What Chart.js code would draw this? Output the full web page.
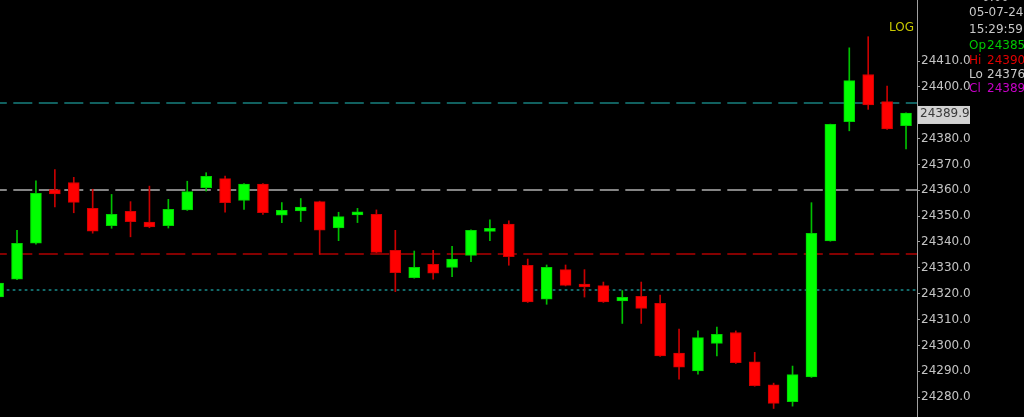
<!DOCTYPE html>
<html lang="en">
<head>
  <meta charset="UTF-8">
  <title>NIFTY 1m</title>
  <script src="https://cdn.jsdelivr.net/npm/chart.js@4.4.1/dist/chart.umd.min.js"></script>
  <style>
    html, body { margin: 0; padding: 0; background: #000; }
    #wrap { width: 1024px; height: 417px; }
  </style>
</head>
<body>
  <div id="wrap"><canvas id="myChart"></canvas></div>
  <script>
    // 1 minute candles, 05-07-24
    const times = ['14:41','14:42','14:43','14:44','14:45','14:46','14:47','14:48','14:49','14:50',
      '14:51','14:52','14:53','14:54','14:55','14:56','14:57','14:58','14:59','15:00',
      '15:01','15:02','15:03','15:04','15:05','15:06','15:07','15:08','15:09','15:10',
      '15:11','15:12','15:13','15:14','15:15','15:16','15:17','15:18','15:19','15:20',
      '15:21','15:22','15:23','15:24','15:25','15:26','15:27','15:28','15:29']
    const opens = [24318.7,24325.6,24339.5,24360.3,24363.0,24353.0,24346.3,24351.9,24347.7,24346.3,
      24352.4,24361.0,24364.5,24356.1,24362.4,24350.4,24352.0,24355.6,24345.4,24350.5,
      24350.7,24336.8,24326.2,24331.4,24330.2,24334.8,24344.1,24346.9,24331.0,24317.9,
      24329.3,24323.6,24323.1,24317.2,24319.0,24316.3,24297.0,24290.1,24300.8,24305.0,
      24293.6,24284.7,24278.2,24287.8,24340.4,24386.5,24404.8,24394.3,24385.0]
    const highs = [24324.5,24344.5,24363.7,24368.0,24365.0,24360.4,24358.4,24355.6,24361.6,24356.5,
      24363.5,24366.8,24365.5,24362.6,24362.6,24355.2,24356.8,24355.8,24351.5,24353.0,
      24352.4,24344.5,24336.5,24336.8,24338.3,24344.7,24348.6,24348.2,24333.4,24331.1,
      24331.1,24329.3,24324.5,24321.2,24324.5,24319.5,24306.3,24305.6,24307.1,24305.6,
      24297.3,24285.4,24292.0,24355.2,24385.6,24415.1,24419.4,24400.3,24390.0]
    const lows = [24313.5,24325.4,24339.2,24353.6,24351.3,24343.4,24345.3,24342.0,24345.5,24345.4,
      24352.2,24359.7,24351.5,24352.6,24350.7,24347.5,24347.9,24335.2,24340.5,24347.5,
      24335.8,24320.8,24326.0,24325.6,24326.6,24332.4,24340.5,24331.0,24316.6,24315.9,
      24323.0,24318.7,24316.6,24308.5,24308.5,24295.7,24286.9,24288.9,24295.9,24293.0,
      24284.2,24275.6,24276.5,24287.6,24340.3,24383.0,24391.3,24383.5,24376.0]
    const closes = [24324.1,24339.5,24358.8,24358.6,24355.3,24344.2,24350.7,24347.9,24345.8,24352.6,
      24359.5,24365.4,24355.2,24362.4,24351.3,24352.2,24353.5,24344.6,24349.8,24350.9,
      24336.0,24328.1,24330.2,24327.9,24333.4,24344.5,24345.3,24334.3,24316.8,24330.2,
      24323.2,24322.6,24316.8,24318.6,24314.3,24295.9,24291.6,24303.0,24304.3,24293.3,
      24284.4,24277.6,24288.7,24343.3,24385.5,24402.4,24393.0,24383.7,24389.9]

    const tickValues = [24280,24290,24300,24310,24320,24330,24340,24350,24360,24370,24380,24390,24400,24410]

    // horizontal reference levels
    const levels = [24393.6, 24360, 24335.2, 24321.3]
    const levelColors = ['#17807f', '#b0b0b0', '#b00000', '#188c8c']
    const levelWidths = [1.5, 1.5, 1.5, 1.5]
    const levelDashes = [[19, 6.5], [19, 6.5], [19, 6.5], [2.7, 3.3]]
    const levelOffsets = [12.2, 12.2, 12.2, -6.7]

    const lastPrice = 24389.9
    const infoLabels = ['', '', 'Op', 'Hi', 'Lo', 'Cl']
    const infoValues = ['05-07-24', '15:29:59', '24385', '24390', '24376', '24389']
    const infoColors = ['#c8c8c8', '#c8c8c8', '#00c800', '#e00000', '#c8c8c8', '#c800c8']

    const up = times.map((t, i) => closes[i] >= opens[i])
    const FONT = 'DejaVu Sans'

    const overlay = {
      id: 'overlay',
      beforeDraw(chart) {
        const c = chart.ctx
        c.save()
        c.fillStyle = '#000'
        c.fillRect(0, 0, chart.width, chart.height)
        c.restore()
      },
      beforeDatasetsDraw(chart) {
        const c = chart.ctx, a = chart.chartArea, y = chart.scales.y
        c.save()
        levels.forEach((lv, i) => {
          const py = Math.round(y.getPixelForValue(lv))
          c.strokeStyle = levelColors[i]
          c.lineWidth = levelWidths[i]
          c.setLineDash(levelDashes[i])
          c.lineDashOffset = levelOffsets[i]
          c.beginPath()
          c.moveTo(a.left, py)
          c.lineTo(a.right, py)
          c.stroke()
        })
        c.restore()
      },
      afterDraw(chart) {
        const c = chart.ctx, y = chart.scales.y
        c.save()
        c.font = '12px "' + FONT + '"'
        c.textBaseline = 'middle'
        // last price box
        const py = y.getPixelForValue(lastPrice)
        c.fillStyle = '#d2d2d2'
        c.fillRect(918, py - 7, 52, 18)
        c.fillStyle = '#3a3a3a'
        c.fillText(lastPrice.toFixed(1), 920, py + 1)
        // info panel
        c.fillStyle = '#c8c8c8'
        c.fillText('0:00', 982, -2)
        const rows = [13, 30, 45.5, 60.5, 74.5, 89]
        infoValues.forEach((v, i) => {
          c.fillStyle = infoColors[i]
          if (infoLabels[i]) {
            c.fillText(infoLabels[i], 969, rows[i])
            c.fillText(v, 987, rows[i])
          } else {
            c.fillText(v, 969, rows[i])
          }
        })
        c.fillStyle = '#c8c800'
        c.fillText('LOG', 889, 28)
        c.restore()
      }
    }

    const ctx = document.getElementById('myChart').getContext('2d')
    new Chart(ctx, {
      type: 'bar',
      data: {
        datasets: [
          {
            label: 'body',
            order: 0,
            grouped: false,
            data: times.map((t, i) => ({ x: i, y: [opens[i], closes[i]] })),
            backgroundColor: up.map(u => u ? '#00ff00' : '#ff0000'),
            borderColor: up.map(u => u ? '#00d000' : '#d00000'),
            borderWidth: 1,
            borderSkipped: false,
            barThickness: 11,
            minBarLength: 3
          },
          {
            label: 'wick',
            order: 1,
            grouped: false,
            data: times.map((t, i) => ({ x: i, y: [lows[i], highs[i]] })),
            backgroundColor: up.map(u => u ? '#00c000' : '#c80000'),
            borderWidth: 0,
            barThickness: 1
          }
        ]
      },
      options: {
        responsive: true,
        maintainAspectRatio: false,
        animation: false,
        layout: { padding: 0 },
        plugins: { legend: { display: false }, tooltip: { enabled: false } },
        scales: {
          x: {
            type: 'linear',
            display: false,
            offset: false,
            min: 0.1,
            max: 48.58
          },
          y: {
            position: 'right',
            min: 24272.3,
            max: 24433.6,
            afterBuildTicks: s => { s.ticks = tickValues.map(v => ({ value: v })) },
            afterFit: s => { s.width = 107; s.paddingTop = 0; s.paddingBottom = 0 },
            ticks: {
              color: '#c4c4c4',
              padding: 1,
              font: { family: FONT, size: 12 },
              callback: v => Number(v).toFixed(1)
            },
            grid: { drawOnChartArea: false, color: '#a0a0a0', tickLength: 3 },
            border: { color: '#a0a0a0', width: 1 }
          }
        }
      },
      plugins: [overlay]
    })
  </script>
</body>
</html>
